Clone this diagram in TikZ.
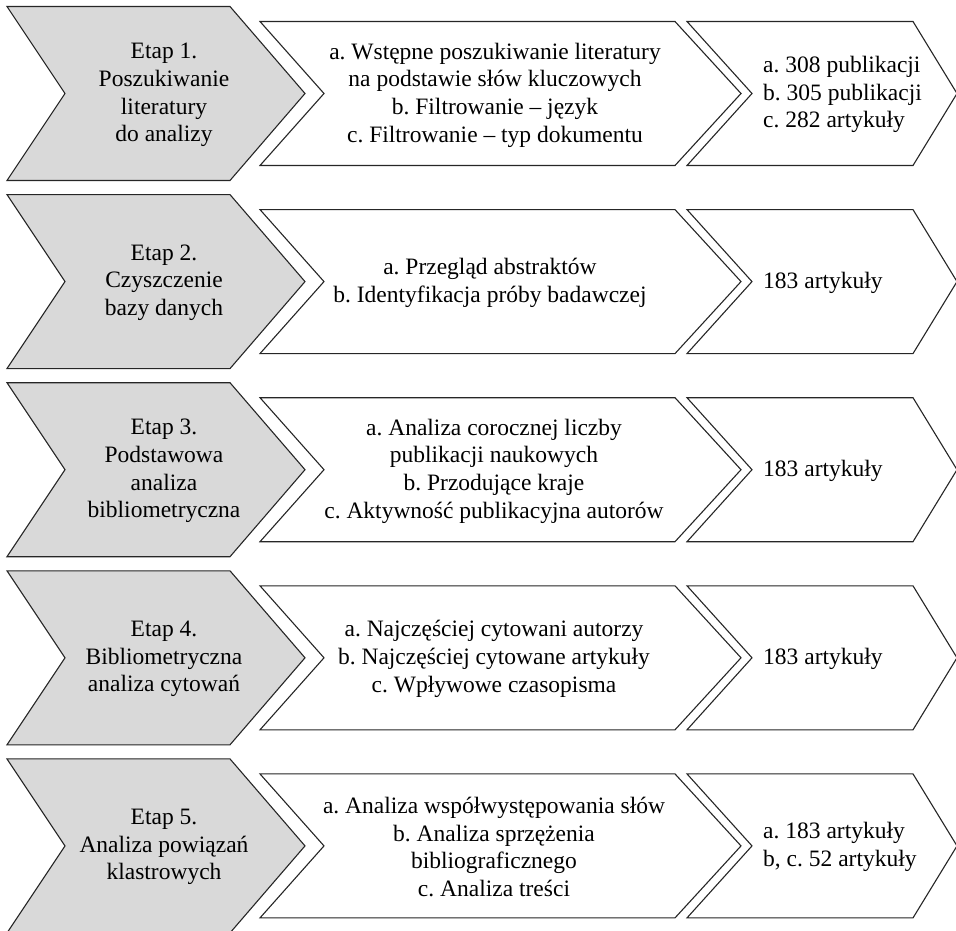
\documentclass[tikz,border=0pt]{standalone}
\usepackage{fontspec}
\setmainfont{Liberation Serif}
\frenchspacing
\begin{document}
\begin{tikzpicture}[x=1pt,y=-1pt,
  stage/.style={draw=black!85, line width=1.1pt, fill=gray!30, line join=miter},
  box/.style={draw=black!85, line width=1.1pt, fill=white, line join=miter},
  txt/.style={font=\fontsize{23.5}{27.7}\selectfont\frenchspacing, align=center, inner sep=0pt},
  txtl/.style={txt, align=left, anchor=west}]
\useasboundingbox (0,0) rectangle (956,931);
\foreach \i in {0,...,4}{
  \pgfmathsetmacro{\c}{93.5+188.1*\i}
  \draw[stage] (7,\c-87) -- (230,\c-87) -- (305,\c) -- (230,\c+87) -- (7,\c+87) -- (65,\c) -- cycle;
  \draw[box] (260,\c-72) -- (675,\c-72) -- (741,\c) -- (675,\c+72) -- (260,\c+72) -- (324,\c) -- cycle;
  \draw[box] (687,\c-72) -- (913,\c-72) -- (957,\c) -- (913,\c+72) -- (687,\c+72) -- (752,\c) -- cycle;
}
% row 1
\node[txt] (s1) at (164,95) {Etap 1.\\Poszukiwanie\\literatury\\do analizy};
\node[txt] (m1) at (495,95) {a. Wstępne poszukiwanie literatury\\na podstawie słów kluczowych\\b. Filtrowanie – język\\c. Filtrowanie – typ dokumentu};
\node[txtl] (r1) at (763,94.5) {a. 308 publikacji\\b. 305 publikacji\\c. 282 artykuły};
% row 2
\node[txt] (s2) at (164,282.6) {Etap 2.\\Czyszczenie\\bazy danych};
\node[txt] (m2) at (490,282.6) {a. Przegląd abstraktów\\b. Identyfikacja próby badawczej};
\node[txtl] (r2) at (763,282.6) {183 artykuły};
% row 3
\node[txt] (s3) at (164,471) {Etap 3.\\Podstawowa\\analiza\\bibliometryczna};
\node[txt] (m3) at (494,471) {a. Analiza corocznej liczby\\publikacji naukowych\\b. Przodujące kraje\\c. Aktywność publikacyjna autorów};
\node[txtl] (r3) at (763,470.7) {183 artykuły};
% row 4
\node[txt] (s4) at (164,658.8) {Etap 4.\\Bibliometryczna\\analiza cytowań};
\node[txt] (m4) at (494,658.8) {a. Najczęściej cytowani autorzy\\b. Najczęściej cytowane artykuły\\c. Wpływowe czasopisma};
\node[txtl] (r4) at (763,658.8) {183 artykuły};
% row 5
\node[txt] (s5) at (164,847) {Etap 5.\\Analiza powiązań\\klastrowych};
\node[txt] (m5) at (494,847) {a. Analiza współwystępowania słów\\b. Analiza sprzężenia\\bibliograficznego\\c. Analiza treści};
\node[txtl] (r5) at (763,846.9) {a. 183 artykuły\\b, c. 52 artykuły};
\end{tikzpicture}
\end{document}
